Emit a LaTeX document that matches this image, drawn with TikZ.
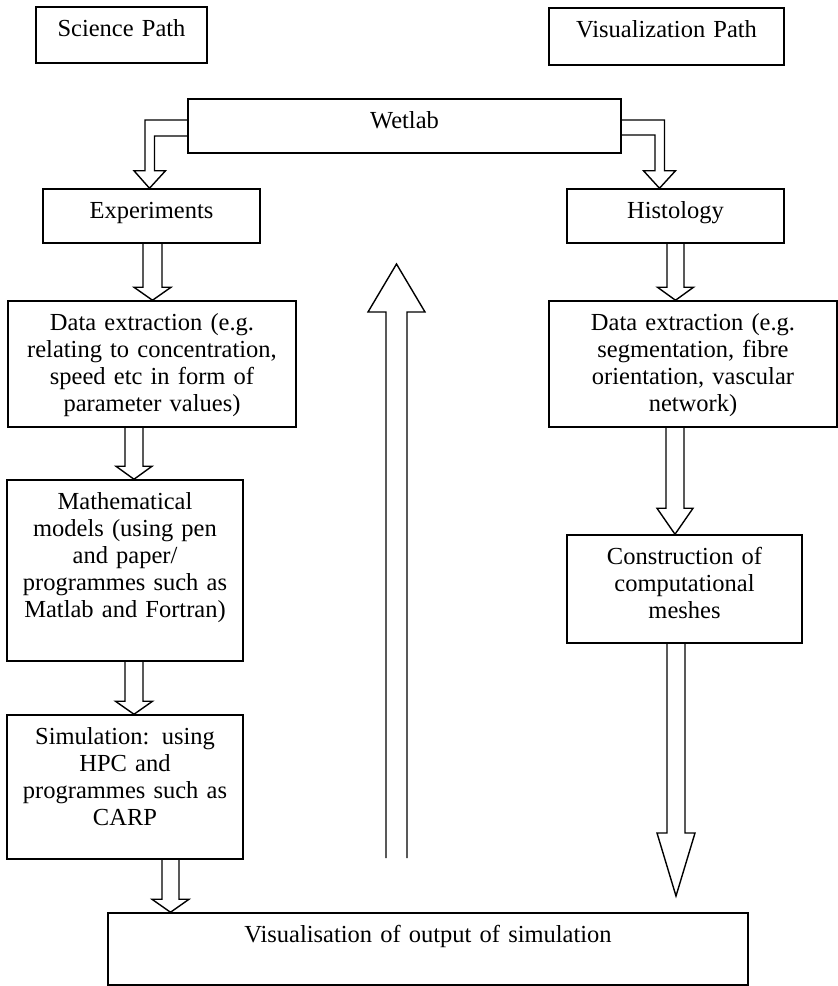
\documentclass[tikz,border=0pt]{standalone}
\usepackage{fontspec}
\setmainfont{Liberation Serif}
\usetikzlibrary{calc}

\newlength{\du}
\setlength{\du}{1pt}

\tikzset{
  flowbox/.style={draw, line width=1.5pt, inner sep=0pt, align=center,
    font=\fontsize{24.5pt}{27pt}\selectfont, text height=29pt},
  flowline/.style={line width=1.4pt, line join=miter}
}

% hollow block arrow: shaft x, from, to, shaft half width, head half width, head length
\newcommand{\hollowarrow}[6]{%
  \draw[flowline] let \p1=(#2), \p2=(#3) in
    ({#1-#4},\y1) -- ({#1-#4},{\y2-(#6)}) -- ({#1-#5},{\y2-(#6)}) -- (#1,\y2)
    -- ({#1+#5},{\y2-(#6)}) -- ({#1+#4},{\y2-(#6)}) -- ({#1+#4},\y1);
}

\begin{document}
\begin{tikzpicture}
\pgftransformxscale{1.000000}
\pgftransformyscale{-1.000000}
\useasboundingbox (0\du,0\du) rectangle (838\du,986\du);
% the two path titles
\node[flowbox, text width=171pt, text depth=27pt] (science) at (121.5\du,35\du) {Science Path};
\node[flowbox, text width=235pt, text depth=28pt] (vispath) at (666.5\du,36.5\du) {Visualization Path};
\node[flowbox, text width=433pt, text depth=25pt] (wetlab) at (404.5\du,126\du) {Wetlab};
% science path
\node[flowbox, text width=217pt, text depth=25pt] (exp) at (151.5\du,216\du) {Experiments};
\node[flowbox, text width=288pt, text depth=97pt] (dataleft) at (152\du,364\du) {Data extraction (e.g.\\relating to concentration,\\speed etc in form of\\parameter values)};
\node[flowbox, text width=236pt, text depth=152pt] (math) at (125\du,570.5\du) {Mathematical\\models (using pen\\and paper/\\programmes such as\\Matlab and Fortran)};
\node[flowbox, text width=236pt, text depth=115pt] (sim) at (125\du,787\du) {Simulation: using\\HPC and\\programmes such as\\CARP};
% visualization path
\node[flowbox, text width=217pt, text depth=25pt] (hist) at (675.5\du,216\du) {Histology};
\node[flowbox, text width=288pt, text depth=97pt] (dataright) at (693\du,364\du) {Data extraction (e.g.\\segmentation, fibre\\orientation, vascular\\network)};
\node[flowbox, text width=235pt, text depth=79pt] (mesh) at (684.5\du,589\du) {Construction of\\computational\\meshes};
\node[flowbox, text width=640pt, text depth=43pt] (output) at (428\du,949\du) {Visualisation of output of simulation};
\coordinate (meshtip) at (676\du,896\du);
\coordinate (loopbase) at (396.5\du,858\du);
\coordinate (looptip) at (396.5\du,264\du);

% bent arrows out of the wetlab
\draw[flowline] let \p1=(wetlab.west), \p2=(exp.north) in
  (\x1,{\y1-6pt}) -- (145pt,{\y1-6pt}) -- (145pt,{\y2-17.5pt}) -- (134pt,{\y2-17.5pt})
  -- (149.5pt,\y2) -- (165.5pt,{\y2-17.5pt}) -- (154.5pt,{\y2-17.5pt})
  -- (154.5pt,{\y1+10pt}) -- (\x1,{\y1+10pt});
\draw[flowline] let \p1=(wetlab.east), \p2=(hist.north) in
  (\x1,{\y1-6pt}) -- (664.5pt,{\y1-6pt}) -- (664.5pt,{\y2-17.5pt}) -- (675.5pt,{\y2-17.5pt})
  -- (659.5pt,\y2) -- (643.5pt,{\y2-17.5pt}) -- (655pt,{\y2-17.5pt})
  -- (655pt,{\y1+9pt}) -- (\x1,{\y1+9pt});

\hollowarrow{152.5pt}{exp.south}{dataleft.north}{9.5pt}{18.5pt}{13pt}
\hollowarrow{134pt}{dataleft.south}{math.north}{9pt}{18pt}{13pt}
\hollowarrow{134pt}{math.south}{sim.north}{9pt}{18.5pt}{13pt}
\hollowarrow{170.5pt}{sim.south}{output.north}{8.5pt}{18.5pt}{13pt}
\hollowarrow{675.5pt}{hist.south}{dataright.north}{8.5pt}{18pt}{13pt}
\hollowarrow{675pt}{dataright.south}{mesh.north}{9pt}{18pt}{26pt}
\hollowarrow{676pt}{mesh.south}{meshtip}{9pt}{19pt}{63pt}
% was here: the loop back up
\hollowarrow{396.5pt}{loopbase}{looptip}{10.5pt}{28.5pt}{-48pt}
\end{tikzpicture}
\end{document}
